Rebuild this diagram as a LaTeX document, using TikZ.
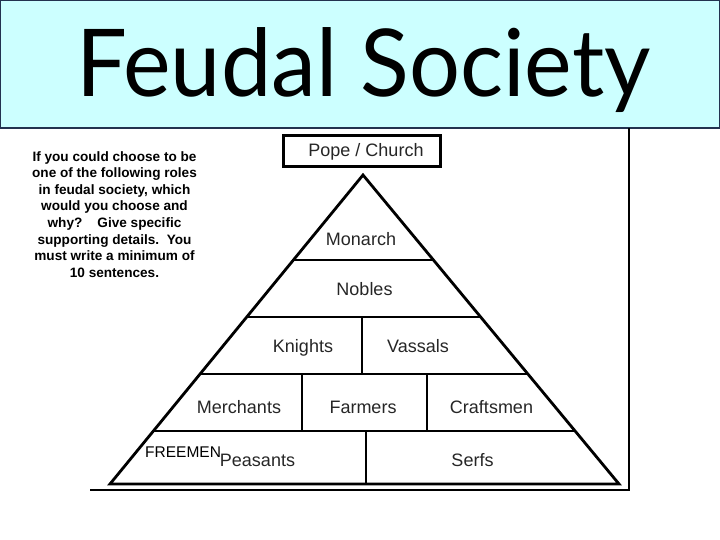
\documentclass[tikz,border=0pt]{standalone}
\usepackage{fontspec}
\usepackage{graphicx}
\usetikzlibrary{calc}
\setmainfont{Liberation Sans}
\newfontfamily\titlefont{Lato}
\definecolor{titlecyan}{HTML}{CCFFFF}
\definecolor{titleborder}{HTML}{22324F}
\definecolor{labelgray}{HTML}{262626}
\tikzset{
  lbl/.style={font=\fontsize{18}{20}\selectfont, text=labelgray, inner sep=0pt, anchor=base},
  pyr/.style={line width=2.8pt, line join=miter, line cap=rect},
  pyrdiv/.style={line width=2.4pt},
  frameline/.style={line width=1.2pt},
}
\begin{document}
\begin{tikzpicture}[x=1pt,y=-1pt]
\useasboundingbox (0,0) rectangle (720,540);
\fill[white] (0,0) rectangle (720,540);

% title box
\draw[fill=titlecyan, draw=titleborder, line width=1.3pt] (0.65,0.65) rectangle (719.35,128);
\node[anchor=north west, inner sep=0pt] (title) at (76,27)
  {\resizebox*{574pt}{85pt}{\titlefont Feudal Society}};

% picture frame
\coordinate (frtop) at (629,128);
\coordinate (frcorner) at (629,490);
\coordinate (frleft) at (90,490);
\draw[frameline] (frtop) -- (frcorner) -- (frleft);

% question text
\node[anchor=north, align=center, inner sep=0pt,
      font=\bfseries\fontsize{13.6}{16.6}\selectfont] (question) at (114.5,151)
  {If you could choose to be\\ one of the following roles\\ in feudal society, which\\
   would you choose and\\ why?\ \ \ \ Give specific\\ supporting details.\ \ You\\
   must write a minimum of\\ 10 sentences.};

% Pope / Church box
\node[draw, line width=2.8pt, minimum width=157pt, minimum height=31pt, inner sep=0pt] (popebox) at (362,151) {};
\node[lbl] (pope) at (366,157) {Pope / Church};

% pyramid
\coordinate (apex) at (363,175);
\coordinate (bl) at (110,484);
\coordinate (br) at (619,484);
\draw[pyr] (apex) -- (bl) -- (br) -- cycle;
\foreach \t/\n in {0.2751/a, 0.4595/b, 0.6440/c, 0.8285/d}{
  \coordinate (l\n) at ($(apex)!\t!(bl)$);
  \coordinate (r\n) at ($(apex)!\t!(br)$);
  \draw[pyrdiv] (l\n) -- (r\n);
}
% vertical dividers
\coordinate (v1t) at (362,317); \coordinate (v1b) at (362,374);
\coordinate (v2t) at (302,374); \coordinate (v2b) at (302,431);
\coordinate (v3t) at (427,374); \coordinate (v3b) at (427,431);
\coordinate (v4t) at (366,431); \coordinate (v4b) at (366,484);
\draw[pyrdiv] (v1t) -- (v1b);
\draw[pyrdiv] (v2t) -- (v2b);
\draw[pyrdiv] (v3t) -- (v3b);
\draw[pyrdiv] (v4t) -- (v4b);

% labels
\node[lbl] (monarch) at (361,245) {Monarch};
\node[lbl] (nobles) at (364.5,295.5) {Nobles};
\node[lbl] (knights) at (303,352) {Knights};
\node[lbl] (vassals) at (418,352) {Vassals};
\node[lbl] (merchants) at (239,413) {Merchants};
\node[lbl] (farmers) at (363,413) {Farmers};
\node[lbl] (craftsmen) at (491.5,413) {Craftsmen};
\node[lbl] (peasants) at (257.5,466.5) {Peasants};
\node[lbl] (serfs) at (472.5,466.5) {Serfs};
\node[anchor=base west, inner sep=0pt, font=\fontsize{15.5}{17}\selectfont] (freemen) at (145,457) {FREEMEN};
\end{tikzpicture}
\end{document}
